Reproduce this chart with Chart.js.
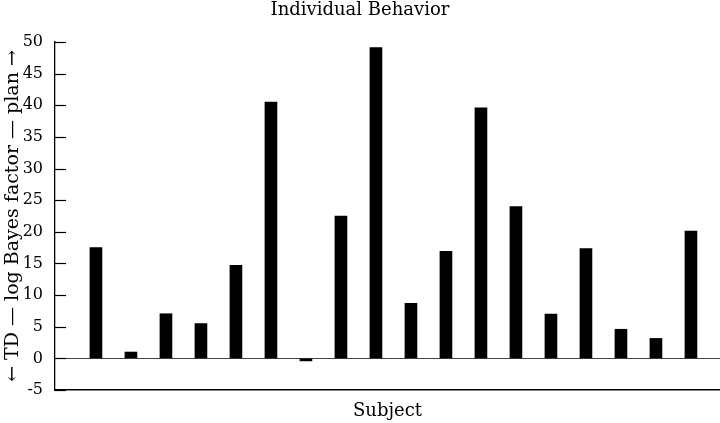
<!DOCTYPE html>
<html>
<head>
<meta charset="utf-8">
<script src="https://cdn.jsdelivr.net/npm/chart.js@4"></script>
<style>
  html, body { margin: 0; padding: 0; background: #fff; }
  #wrap { width: 720px; height: 423px; }
</style>
</head>
<body>
<div id="wrap"><canvas id="behaviorChart" width="720" height="423"></canvas></div>
<script>
/* ==========================================================
   Individual Behavior — log Bayes factor per subject
========================================================== */

const subjects = [1, 2, 3, 4, 5, 6, 7, 8, 9, 10, 11, 12, 13, 14, 15, 16, 17, 18];
const bayesFactors = [17.5, 1.0, 7.05, 5.5, 14.7, 40.5, -0.4, 22.5, 49.1, 8.7, 16.9, 39.6, 24.0, 7.0, 17.35, 4.6, 3.15, 20.1];
const yTicks = [-5, 0, 5, 10, 15, 20, 25, 30, 35, 40, 45, 50];

const chartTitle = "Individual Behavior";
const xTitle = "Subject";
const yTitle = "\u2190 TD \u2014 log Bayes factor \u2014 plan \u2192";

const FONT = "'DejaVu Serif', 'Liberation Serif', serif";

/* inward tick marks on the y axis */
const inwardTicks = {
    id: "inwardTicks",
    afterDatasetsDraw(chart) {
        const y = chart.scales.y;
        const ctx = chart.ctx;
        ctx.save();
        ctx.strokeStyle = "#000";
        ctx.lineWidth = 1.2;
        yTicks.forEach(v => {
            const py = Math.round(y.getPixelForValue(v)) + 0.5;
            ctx.beginPath();
            ctx.moveTo(y.right, py);
            ctx.lineTo(y.right + 11, py);
            ctx.stroke();
        });
        ctx.restore();
    }
};

const ctx = document.getElementById("behaviorChart").getContext("2d");

new Chart(ctx, {
    type: "bar",
    data: {
        datasets: [{
            data: subjects.map((s, i) => ({ x: s, y: bayesFactors[i] })),
            backgroundColor: "#000",
            borderWidth: 0,
            barThickness: 12
        }]
    },
    options: {
        responsive: false,
        animation: false,
        layout: { padding: 0 },
        plugins: {
            legend: { display: false },
            tooltip: { enabled: false },
            title: {
                display: true,
                text: chartTitle,
                color: "#000",
                font: { family: FONT, size: 18, weight: "normal" },
                padding: { top: 0, bottom: 20.4 }
            }
        },
        scales: {
            x: {
                type: "linear",
                offset: false,
                min: -0.17,
                max: 18.83,
                ticks: { display: false },
                grid: { display: false },
                border: { display: true, color: "#000", width: 1.5 },
                title: {
                    display: true,
                    text: xTitle,
                    color: "#000",
                    font: { family: FONT, size: 18 },
                    padding: { top: 0, bottom: 1.2 }
                },
                afterFit(scale) { scale.height = 33; }
            },
            y: {
                min: -5,
                max: 50,
                afterBuildTicks(scale) {
                    scale.ticks = yTicks.map(v => ({ value: v }));
                },
                ticks: {
                    color: "#000",
                    padding: 12,
                    font: { family: FONT, size: 16 },
                    callback: v => String(v)
                },
                grid: {
                    drawTicks: false,
                    color: c => (c.tick && c.tick.value === 0 ? "#444" : "rgba(0,0,0,0)"),
                    lineWidth: 1
                },
                border: { display: true, color: "#000", width: 1.3 },
                title: {
                    display: true,
                    text: yTitle,
                    color: "#000",
                    font: { family: FONT, size: 19 },
                    padding: { top: 1.5, bottom: 0 }
                },
                afterFit(scale) { scale.width = 55; }
            }
        }
    },
    plugins: [inwardTicks]
});
</script>
</body>
</html>
